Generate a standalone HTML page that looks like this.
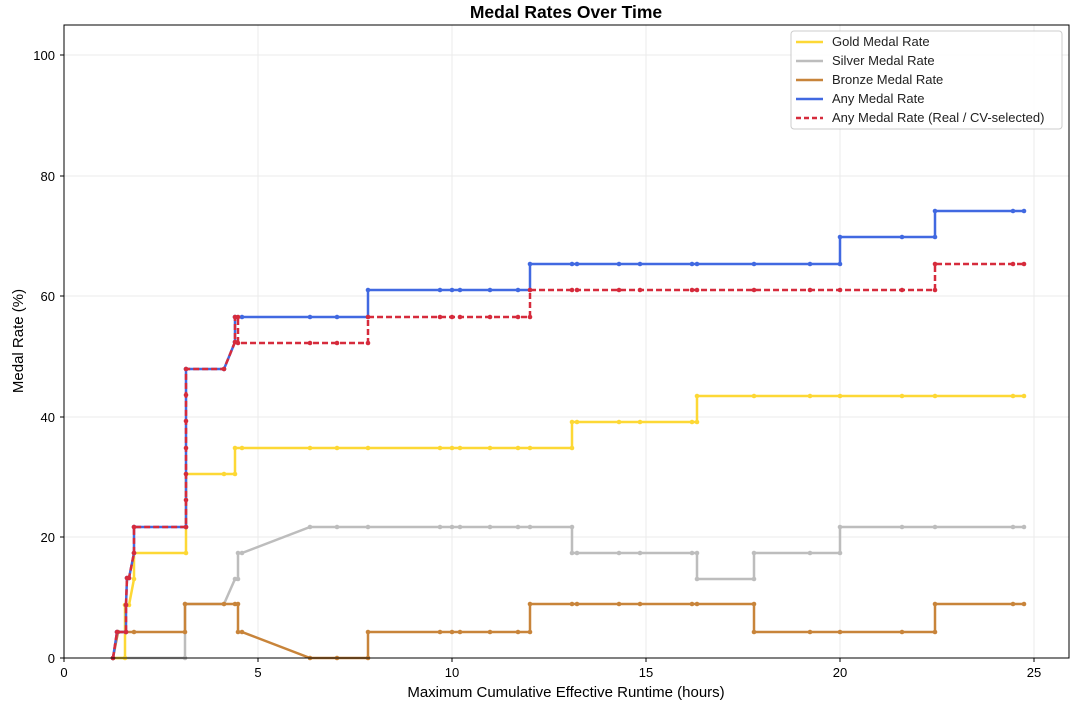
<!DOCTYPE html>
<html><head><meta charset="utf-8"><style>body{margin:0;background:#fff}svg{font-family:"Liberation Sans","DejaVu Sans",sans-serif}</style></head>
<body>
<svg id="s" width="1080" height="708" xmlns="http://www.w3.org/2000/svg">
<rect width="1080" height="708" fill="#fff"/>
<g stroke="#ebebeb" stroke-width="1">
<line x1="64" x2="64" y1="25" y2="658"/><line x1="258" x2="258" y1="25" y2="658"/><line x1="452" x2="452" y1="25" y2="658"/><line x1="646" x2="646" y1="25" y2="658"/><line x1="840" x2="840" y1="25" y2="658"/><line x1="1034" x2="1034" y1="25" y2="658"/>
<line x1="64" x2="1069" y1="537" y2="537"/><line x1="64" x2="1069" y1="417" y2="417"/><line x1="64" x2="1069" y1="296" y2="296"/><line x1="64" x2="1069" y1="176" y2="176"/><line x1="64" x2="1069" y1="55" y2="55"/>
</g>
<g id="series"></g>
<rect x="64" y="25" width="1005" height="633" fill="none" stroke="#000" stroke-width="1"/>
<g font-size="13" fill="#000" text-anchor="middle">
<text x="64" y="677">0</text><text x="258" y="677">5</text><text x="452" y="677">10</text><text x="646" y="677">15</text><text x="840" y="677">20</text><text x="1034" y="677">25</text>
</g>
<g font-size="13" fill="#000" text-anchor="end">
<text x="55" y="663">0</text><text x="55" y="542">20</text><text x="55" y="422">40</text><text x="55" y="301">60</text><text x="55" y="181">80</text><text x="55" y="60">100</text>
</g>
<g stroke="#000"><line x1="64" x2="64" y1="658" y2="662"/><line x1="258" x2="258" y1="658" y2="662"/><line x1="452" x2="452" y1="658" y2="662"/><line x1="646" x2="646" y1="658" y2="662"/><line x1="840" x2="840" y1="658" y2="662"/><line x1="1034" x2="1034" y1="658" y2="662"/>
<line x1="60" x2="64" y1="658" y2="658"/><line x1="60" x2="64" y1="537" y2="537"/><line x1="60" x2="64" y1="417" y2="417"/><line x1="60" x2="64" y1="296" y2="296"/><line x1="60" x2="64" y1="176" y2="176"/><line x1="60" x2="64" y1="55" y2="55"/></g>
<text x="566" y="18" font-size="17.5" font-weight="bold" text-anchor="middle">Medal Rates Over Time</text>
<text x="566" y="697" font-size="15" text-anchor="middle">Maximum Cumulative Effective Runtime (hours)</text>
<text transform="translate(23,341) rotate(-90)" font-size="15" text-anchor="middle">Medal Rate (%)</text>
<g>
<rect x="791" y="31" width="271" height="98" fill="#fff" fill-opacity="0.9" stroke="#ccc" rx="3"/>
<g font-size="13" fill="#222">
<text x="832" y="46">Gold Medal Rate</text><text x="832" y="65">Silver Medal Rate</text><text x="832" y="84">Bronze Medal Rate</text><text x="832" y="103">Any Medal Rate</text><text x="832" y="122">Any Medal Rate (Real / CV-selected)</text>
</g>
<g stroke-width="2.5">
<line x1="796" x2="823" y1="42" y2="42" stroke="#fdd835"/><line x1="796" x2="823" y1="61" y2="61" stroke="#bdbdbd"/><line x1="796" x2="823" y1="80" y2="80" stroke="#c8843a"/><line x1="796" x2="823" y1="99" y2="99" stroke="#4169e1"/><line x1="796" x2="823" y1="118" y2="118" stroke="#d62b3c" stroke-dasharray="5,3"/>
</g>
</g>
</svg>
<script>
var S={
silver:{c:"#bdbdbd",d:"",p:[[113,658],[185,658],[185,604],[224,604],[235,579],[238,579],[238,553],[242,553],[310,527],[337,527],[368,527],[440,527],[452,527],[460,527],[490,527],[518,527],[530,527],[572,527],[572,553],[577,553],[619,553],[640,553],[692,553],[697,553],[697,579],[754,579],[754,553],[810,553],[840,553],[840,527],[902,527],[935,527],[1013,527],[1024,527]]},
bronze:{c:"#c8843a",d:"",p:[[113,658],[118,632],[126,632],[134,632],[185,632],[185,604],[224,604],[235,604],[238,604],[238,632],[242,632],[310,658],[337,658],[368,658],[368,632],[440,632],[452,632],[460,632],[490,632],[518,632],[530,632],[530,604],[572,604],[577,604],[619,604],[640,604],[692,604],[697,604],[754,604],[754,632],[810,632],[840,632],[902,632],[935,632],[935,604],[1013,604],[1024,604]]},
gold:{c:"#fdd835",d:"",p:[[113,658],[125,658],[125,605],[129,605],[134,579],[134,553],[186,553],[186,474],[224,474],[235,474],[235,448],[242,448],[310,448],[337,448],[368,448],[440,448],[452,448],[460,448],[490,448],[518,448],[530,448],[572,448],[572,422],[577,422],[619,422],[640,422],[692,422],[697,422],[697,396],[754,396],[810,396],[840,396],[902,396],[935,396],[1013,396],[1024,396]]},
any:{c:"#4169e1",d:"",p:[[113,658],[117,632],[126,632],[126,605],[127,578],[129,578],[134,553],[134,527],[186,527],[186,369],[224,369],[235,342],[235,317],[242,317],[310,317],[337,317],[368,317],[368,290],[440,290],[452,290],[460,290],[490,290],[518,290],[530,290],[530,264],[572,264],[577,264],[619,264],[640,264],[692,264],[697,264],[754,264],[810,264],[840,264],[840,237],[902,237],[935,237],[935,211],[1013,211],[1024,211]]},
real:{c:"#d62b3c",d:"6,3",p:[[113,658],[117,632],[126,632],[126,605],[127,578],[129,578],[134,553],[134,527],[186,527],[186,500],[186,474],[186,448],[186,421],[186,395],[186,369],[224,369],[235,342],[235,317],[238,317],[238,343],[310,343],[337,343],[368,343],[368,317],[440,317],[452,317],[460,317],[490,317],[518,317],[530,317],[530,290],[572,290],[577,290],[619,290],[640,290],[692,290],[697,290],[754,290],[810,290],[840,290],[902,290],[935,290],[935,264],[1013,264],[1024,264]]}
};
var g=document.getElementById("series"),h="";
["silver","bronze","gold","any","real"].forEach(function(k){var s=S[k];
h+='<polyline fill="none" stroke="'+s.c+'" stroke-width="2.5" '+(s.d?'stroke-dasharray="'+s.d+'"':'')+' points="'+s.p.map(function(q){return q.join(",")}).join(" ")+'"/>';
s.p.forEach(function(q){h+='<circle cx="'+q[0]+'" cy="'+q[1]+'" r="2.3" fill="'+s.c+'"/>';});});
g.innerHTML=h;
</script>
</body></html>
